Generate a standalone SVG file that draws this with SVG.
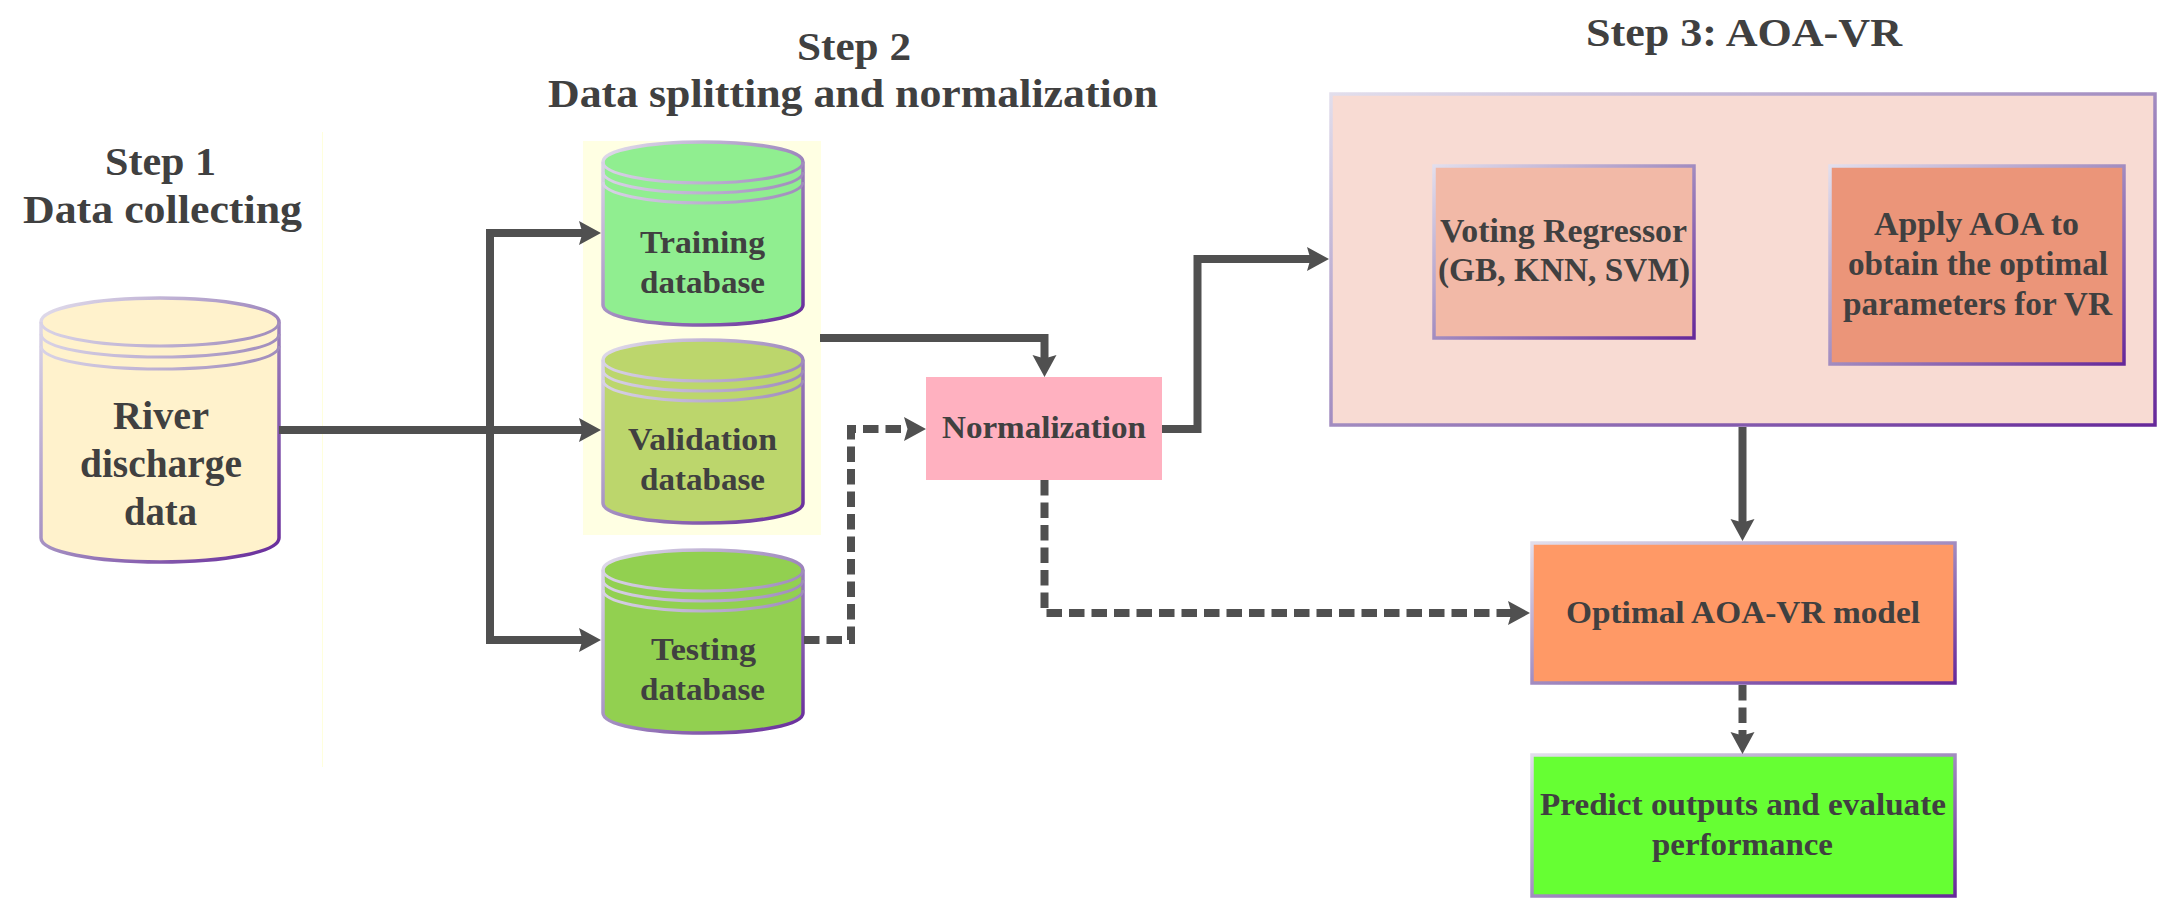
<svg xmlns="http://www.w3.org/2000/svg" width="2174" height="911" viewBox="0 0 2174 911">
<style>
text{font-family:"Liberation Serif","Times New Roman",serif;font-weight:700;fill:#404040;text-anchor:start}
.h{font-size:40px}.m{font-size:40px}.s{font-size:32px}.b{font-size:33px}.o{font-size:31px}
.edge{stroke:#505050;fill:none;stroke-width:8}
.dash{stroke-dasharray:15.5 7}
.box{stroke:url(#g);stroke-width:3.5}
.ring{fill:none;stroke:url(#r);stroke-width:3}
.cyl{stroke:url(#g);stroke-width:3.5}
</style>
<defs>
<linearGradient id="g" x1="0" y1="0" x2="1" y2="1"><stop offset="0" stop-color="#E2DEEC"/><stop offset=".5" stop-color="#A28CC0"/><stop offset="1" stop-color="#66289A"/></linearGradient>
<linearGradient id="r" x1="0" y1="0" x2="1" y2="0"><stop offset="0" stop-color="#D8D2E6"/><stop offset="1" stop-color="#A08CBC"/></linearGradient>
<marker id="a" markerUnits="userSpaceOnUse" markerWidth="26" markerHeight="28" viewBox="0 0 26 28" refX="4" refY="14" orient="auto"><path d="M0,2 L22,14 L0,26 L3.5,14Z" fill="#505050"/></marker>
</defs>
<g id="guide"><rect x="322" y="132" width="1" height="635" fill="#FFFFDC"/></g>
<g id="titles">
<text class="h" x="105" y="175" textLength="111" lengthAdjust="spacingAndGlyphs">Step 1</text>
<text class="h" x="23" y="223" textLength="279" lengthAdjust="spacingAndGlyphs">Data collecting</text>
<text class="h" x="797" y="60" textLength="114" lengthAdjust="spacingAndGlyphs">Step 2</text>
<text class="h" x="548" y="107" textLength="610" lengthAdjust="spacingAndGlyphs">Data splitting and normalization</text>
<text class="h" x="1586" y="46" textLength="316" lengthAdjust="spacingAndGlyphs">Step 3: AOA-VR</text>
</g>
<g id="river">
<path class="cyl" fill="#FFF2CC" d="M41,322 V538 C41,552 95,562 160,562 C225,562 279,552 279,538 V322 C279,308 225,298 160,298 C95,298 41,308 41,322Z"/>
<path class="ring" d="M41,322 C41,336 95,346 160,346 C225,346 279,336 279,322"/>
<path class="ring" d="M41,334 C41,348 95,357 160,357 C225,357 279,348 279,334"/>
<path class="ring" d="M41,346 C41,360 95,369 160,369 C225,369 279,360 279,346"/>
<text class="m" x="113" y="429" textLength="96" lengthAdjust="spacingAndGlyphs">River</text>
<text class="m" x="80" y="477" textLength="162" lengthAdjust="spacingAndGlyphs">discharge</text>
<text class="m" x="124" y="525" textLength="73" lengthAdjust="spacingAndGlyphs">data</text>
</g>
<g id="panel"><rect x="583" y="141" width="238" height="394" fill="#FFFFE3"/></g>
<g id="training">
<path class="cyl" fill="#90EE90" d="M603,162 V305 C603,317 648,325 703,325 C758,325 803,317 803,305 V162 C803,150 758,142 703,142 C648,142 603,150 603,162Z"/>
<path class="ring" d="M603,162 C603,174 648,183 703,183 C758,183 803,174 803,162"/>
<path class="ring" d="M603,172 C603,184 648,193 703,193 C758,193 803,184 803,172"/>
<path class="ring" d="M603,182 C603,194 648,203 703,203 C758,203 803,194 803,182"/>
<text class="s" x="640" y="253" textLength="125" lengthAdjust="spacingAndGlyphs">Training</text>
<text class="s" x="640" y="293" textLength="125" lengthAdjust="spacingAndGlyphs">database</text>
</g>
<g id="validation">
<path class="cyl" fill="#BCD66C" d="M603,360 V503 C603,515 648,523 703,523 C758,523 803,515 803,503 V360 C803,348 758,340 703,340 C648,340 603,348 603,360Z"/>
<path class="ring" d="M603,360 C603,372 648,381 703,381 C758,381 803,372 803,360"/>
<path class="ring" d="M603,370 C603,382 648,391 703,391 C758,391 803,382 803,370"/>
<path class="ring" d="M603,380 C603,392 648,401 703,401 C758,401 803,392 803,380"/>
<text class="s" x="628" y="450" textLength="149" lengthAdjust="spacingAndGlyphs">Validation</text>
<text class="s" x="640" y="490" textLength="125" lengthAdjust="spacingAndGlyphs">database</text>
</g>
<g id="testing">
<path class="cyl" fill="#92D050" d="M603,570 V713 C603,725 648,733 703,733 C758,733 803,725 803,713 V570 C803,558 758,550 703,550 C648,550 603,558 603,570Z"/>
<path class="ring" d="M603,570 C603,582 648,591 703,591 C758,591 803,582 803,570"/>
<path class="ring" d="M603,580 C603,592 648,601 703,601 C758,601 803,592 803,580"/>
<path class="ring" d="M603,590 C603,602 648,611 703,611 C758,611 803,602 803,590"/>
<text class="s" x="651" y="660" textLength="105" lengthAdjust="spacingAndGlyphs">Testing</text>
<text class="s" x="640" y="700" textLength="125" lengthAdjust="spacingAndGlyphs">database</text>
</g>
<g id="normalization">
<rect x="926" y="377" width="236" height="103" fill="#FFB1C0"/>
<text class="s" x="942" y="438" textLength="204" lengthAdjust="spacingAndGlyphs">Normalization</text>
</g>
<g id="aoa-vr">
<rect class="box" x="1331" y="94" width="824" height="331" fill="#F8DBD3"/>
</g>
<g id="voting">
<rect class="box" x="1434" y="166" width="260" height="172" fill="#F2B9A7"/>
<text class="b" x="1440" y="242" textLength="247" lengthAdjust="spacingAndGlyphs">Voting Regressor</text>
<text class="b" x="1438" y="281" textLength="252" lengthAdjust="spacingAndGlyphs">(GB, KNN, SVM)</text>
</g>
<g id="apply">
<rect class="box" x="1830" y="166" width="294" height="198" fill="#EB9579"/>
<text class="b" x="1874" y="235" textLength="205" lengthAdjust="spacingAndGlyphs">Apply AOA to</text>
<text class="b" x="1848" y="275" textLength="260" lengthAdjust="spacingAndGlyphs">obtain the optimal</text>
<text class="b" x="1843" y="315" textLength="269" lengthAdjust="spacingAndGlyphs">parameters for VR</text>
</g>
<g id="optimal">
<rect class="box" x="1532" y="543" width="423" height="140" fill="#FF9966"/>
<text class="o" x="1566" y="623" textLength="354" lengthAdjust="spacingAndGlyphs">Optimal AOA-VR model</text>
</g>
<g id="predict">
<rect class="box" x="1532" y="755" width="423" height="141" fill="#66FF33"/>
<text class="o" x="1540" y="815" textLength="406" lengthAdjust="spacingAndGlyphs">Predict outputs and evaluate</text>
<text class="o" x="1652" y="855" textLength="181" lengthAdjust="spacingAndGlyphs">performance</text>
</g>
<g id="connectors">
<path class="edge" d="M279,430 H583" marker-end="url(#a)"/>
<path class="edge" d="M490,430 V233 H583" marker-end="url(#a)"/>
<path class="edge" d="M490,430 V640 H583" marker-end="url(#a)"/>
<path class="edge" d="M820,338 H1044.5 V359" marker-end="url(#a)"/>
<path class="edge dash" d="M804,640 H851 V429 H908" marker-end="url(#a)"/>
<path class="edge" d="M1162,429 H1197.5 V259 H1311" marker-end="url(#a)"/>
<path class="edge dash" d="M1044.5,480 V613 H1512" marker-end="url(#a)"/>
<path class="edge" d="M1742.5,427 V523" marker-end="url(#a)"/>
<path class="edge dash" d="M1742.5,685 V736" marker-end="url(#a)"/>
</g>
</svg>
